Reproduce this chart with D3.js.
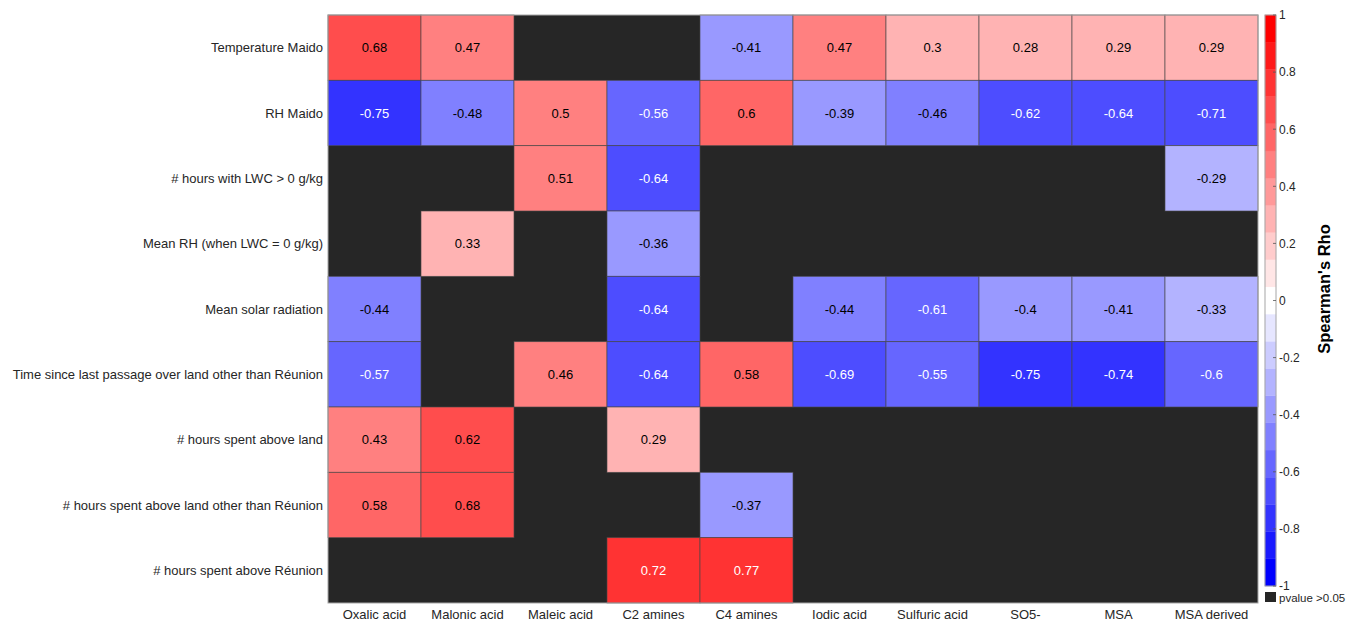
<!DOCTYPE html>
<html>
<head>
<meta charset="utf-8">
<script src="https://cdn.jsdelivr.net/npm/d3@7"></script>
<style>
  html, body { margin: 0; padding: 0; background: #fff; }
  svg { display: block; font-family: "Liberation Sans", Arial, Helvetica, sans-serif; }
</style>
</head>
<body>
<svg id="chart" width="1348" height="622"></svg>
<script>
// ---- Data ----
const columns = ["Oxalic acid", "Malonic acid", "Maleic acid", "C2 amines", "C4 amines",
  "Iodic acid", "Sulfuric acid", "SO5-", "MSA", "MSA derived"];
const rows = ["Temperature Maido", "RH Maido", "# hours with LWC > 0 g/kg",
  "Mean RH (when LWC = 0 g/kg)", "Mean solar radiation",
  "Time since last passage over land other than Réunion", "# hours spent above land",
  "# hours spent above land other than Réunion", "# hours spent above Réunion"];
// null = pvalue > 0.05
const rhoTemperature = [0.68, 0.47, null, null, -0.41, 0.47, 0.3, 0.28, 0.29, 0.29];
const rhoRH = [-0.75, -0.48, 0.5, -0.56, 0.6, -0.39, -0.46, -0.62, -0.64, -0.71];
const rhoLWCHours = [null, null, 0.51, -0.64, null, null, null, null, null, -0.29];
const rhoMeanRH = [null, 0.33, null, -0.36, null, null, null, null, null, null];
const rhoSolar = [-0.44, null, null, -0.64, null, -0.44, -0.61, -0.4, -0.41, -0.33];
const rhoTimeSince = [-0.57, null, 0.46, -0.64, 0.58, -0.69, -0.55, -0.75, -0.74, -0.6];
const rhoHoursLand = [0.43, 0.62, null, 0.29, null, null, null, null, null, null];
const rhoHoursLandOther = [0.58, 0.68, null, null, -0.37, null, null, null, null, null];
const rhoHoursReunion = [null, null, null, 0.72, 0.77, null, null, null, null, null];
const colorbarTicks = [-1, -0.8, -0.6, -0.4, -0.2, 0, 0.2, 0.4, 0.6, 0.8, 1];
const nColors = 21;

const values = [rhoTemperature, rhoRH, rhoLWCHours, rhoMeanRH, rhoSolar,
  rhoTimeSince, rhoHoursLand, rhoHoursLandOther, rhoHoursReunion];

// ---- Layout ----
const svg = d3.select("#chart");
const plot = { left: 328, right: 1258, top: 15, bottom: 603 };
const textColor = "#262626";
const nanColor = "#262626";

const x = d3.scaleBand().domain(columns).range([plot.left, plot.right]);
const y = d3.scaleBand().domain(rows).range([plot.top, plot.bottom]);

// blue-white-red discrete colormap
const palette = d3.range(nColors).map(k => {
  const t = (k - (nColors - 1) / 2) / ((nColors - 1) / 2);
  if (t >= 0) { const v = Math.round(255 * (1 - t)); return d3.rgb(255, v, v).formatHex(); }
  const v = Math.round(255 * (1 + t)); return d3.rgb(v, v, 255).formatHex();
});
const color = d3.scaleQuantize().domain([-1, 1]).range(palette);

const cells = [];
values.forEach((rowVals, i) => rowVals.forEach((v, j) => cells.push({ row: rows[i], col: columns[j], v })));

// NaN background
svg.append("rect")
  .attr("x", plot.left).attr("y", plot.top)
  .attr("width", plot.right - plot.left).attr("height", plot.bottom - plot.top)
  .attr("fill", nanColor);

const g = svg.append("g");
g.selectAll("rect.cell").data(cells.filter(d => d.v !== null)).join("rect")
  .attr("class", "cell")
  .attr("x", d => x(d.col)).attr("y", d => y(d.row))
  .attr("width", x.bandwidth()).attr("height", y.bandwidth())
  .attr("fill", d => color(d.v))
  .attr("stroke", "#4a4a4a").attr("stroke-opacity", 0.8).attr("stroke-width", 0.8);

g.selectAll("text.val").data(cells.filter(d => d.v !== null)).join("text")
  .attr("class", "val")
  .attr("x", d => x(d.col) + x.bandwidth() / 2)
  .attr("y", d => y(d.row) + y.bandwidth() / 2)
  .attr("text-anchor", "middle").attr("dominant-baseline", "central")
  .attr("font-size", 13)
  .attr("fill", d => d3.lab(color(d.v)).l < 57.5 ? "#ffffff" : "#000000")
  .text(d => String(d.v));

// outer border
svg.append("rect")
  .attr("x", plot.left).attr("y", plot.top)
  .attr("width", plot.right - plot.left).attr("height", plot.bottom - plot.top)
  .attr("fill", "none").attr("stroke", "#a6a6a6").attr("stroke-width", 1);

// axis labels
svg.append("g").selectAll("text").data(rows).join("text")
  .attr("x", plot.left - 5).attr("y", d => y(d) + y.bandwidth() / 2)
  .attr("text-anchor", "end").attr("dominant-baseline", "central")
  .attr("font-size", 13).attr("fill", textColor).text(d => d);

svg.append("g").selectAll("text").data(columns).join("text")
  .attr("x", d => x(d) + x.bandwidth() / 2).attr("y", plot.bottom + 11.5)
  .attr("text-anchor", "middle").attr("dominant-baseline", "central")
  .attr("font-size", 13).attr("fill", textColor).text(d => d);

// ---- Colorbar ----
const cb = { x: 1265, w: 11, top: 15, bottom: 586 };
const cy = d3.scaleLinear().domain([-1, 1]).range([cb.bottom, cb.top]);
const step = 2 / nColors;
svg.append("g").selectAll("rect").data(palette).join("rect")
  .attr("x", cb.x)
  .attr("y", (d, i) => cy(-1 + (i + 1) * step))
  .attr("width", cb.w)
  .attr("height", (d, i) => cy(-1 + i * step) - cy(-1 + (i + 1) * step))
  .attr("fill", d => d).attr("stroke", d => d).attr("stroke-width", 0.3);
svg.append("rect").attr("x", cb.x).attr("y", cb.top).attr("width", cb.w)
  .attr("height", cb.bottom - cb.top).attr("fill", "none")
  .attr("stroke", "#a6a6a6").attr("stroke-width", 1);

const cbAxis = svg.append("g").attr("transform", `translate(${cb.x + cb.w},0)`)
  .call(d3.axisRight(cy).tickValues(colorbarTicks).tickSize(0).tickPadding(3).tickFormat(d => String(d)));
cbAxis.select(".domain").remove();
cbAxis.selectAll("text").attr("font-size", 12).attr("fill", textColor)
  .attr("font-family", "'Liberation Sans', Arial, sans-serif");
svg.append("g").selectAll("line").data(colorbarTicks).join("line")
  .attr("x1", cb.x + cb.w - 3).attr("x2", cb.x + cb.w)
  .attr("y1", d => cy(d)).attr("y2", d => cy(d))
  .attr("stroke", "#555").attr("stroke-width", 0.8);

svg.append("text")
  .attr("transform", `translate(1324,289) rotate(-90)`)
  .attr("text-anchor", "middle").attr("dominant-baseline", "central")
  .attr("font-size", 16.5).attr("font-weight", "bold").attr("fill", "#000")
  .text("Spearman's Rho");

// pvalue legend
svg.append("rect").attr("x", cb.x).attr("y", 592).attr("width", cb.w).attr("height", 10)
  .attr("fill", nanColor);
svg.append("text").attr("x", cb.x + cb.w + 3).attr("y", 598)
  .attr("dominant-baseline", "central").attr("font-size", 11.5).attr("fill", textColor)
  .text("pvalue >0.05");
</script>
</body>
</html>
